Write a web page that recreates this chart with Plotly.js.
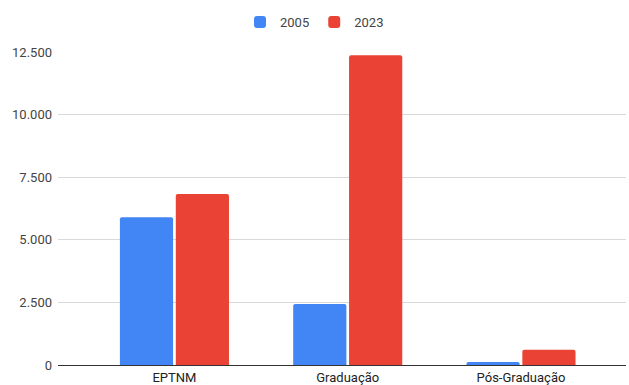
<!DOCTYPE html>
<html>
<head>
<meta charset="utf-8">
<script src="https://cdn.plot.ly/plotly-3.0.1.min.js"></script>
<style>html,body{margin:0;padding:0;background:#fff;}#chart{width:629px;height:385px;}</style>
</head>
<body>
<div id="chart"></div>
<script>
const categories = ["EPTNM", "Graduação", "Pós-Graduação"];
const values2005 = [5900, 2440, 120];
const values2023 = [6830, 12370, 610];
const seriesNames = ["2005", "2023"];
const yTicks = [0, 2500, 5000, 7500, 10000, 12500];

const traces = [
  {type: "bar", name: seriesNames[0], x: categories, y: values2005,
   marker: {color: "#4285F4", cornerradius: 2}, hoverinfo: "y"},
  {type: "bar", name: seriesNames[1], x: categories, y: values2023,
   marker: {color: "#EA4335", cornerradius: 2}, hoverinfo: "y"}
];

const layout = {
  width: 629, height: 385,
  margin: {l: 58, r: 3, t: 52, b: 20, autoexpand: false},
  paper_bgcolor: "#fff", plot_bgcolor: "#fff",
  font: {family: "Roboto, Arial, sans-serif", size: 13, color: "#444"},
  separators: ",.",
  barmode: "group",
  bargap: 0.355,
  bargroupgap: 0.048,
  showlegend: true,
  legend: {orientation: "h", x: 0.5, xanchor: "center", y: 0.943, yanchor: "middle",
           xref: "container", yref: "container",
           font: {size: 13, color: "#444"}, itemwidth: 30, traceorder: "normal"},
  xaxis: {type: "category", range: [-0.672, 2.606], showgrid: false,
          showline: true, linecolor: "#333", linewidth: 1, automargin: false,
          ticks: "", tickfont: {size: 13, color: "#222"}, ticklabelstandoff: 0, fixedrange: true},
  yaxis: {range: [0, 12500], tickvals: yTicks, tickformat: ",", automargin: false,
          showgrid: true, gridcolor: "#d9d9d9", gridwidth: 1,
          zeroline: false, showline: false, ticks: "",
          tickfont: {size: 13, color: "#444"}, ticklabelstandoff: 5, fixedrange: true}
};

Plotly.newPlot("chart", traces, layout, {displayModeBar: false, staticPlot: true});
</script>
</body>
</html>
